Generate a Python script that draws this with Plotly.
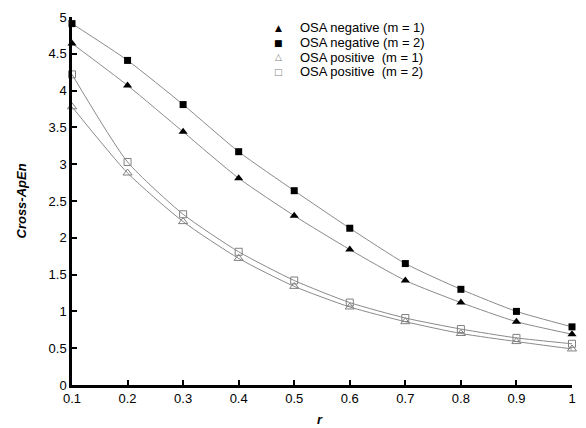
import plotly.graph_objects as go

r = [0.1, 0.2, 0.3, 0.4, 0.5, 0.6, 0.7, 0.8, 0.9, 1.0]
neg_m1 = [4.64, 4.07, 3.44, 2.81, 2.30, 1.84, 1.42, 1.12, 0.86, 0.69]
neg_m2 = [4.91, 4.41, 3.81, 3.17, 2.64, 2.13, 1.65, 1.30, 1.00, 0.79]
pos_m1 = [3.78, 2.88, 2.22, 1.72, 1.34, 1.06, 0.86, 0.70, 0.59, 0.49]
pos_m2 = [4.22, 3.03, 2.32, 1.81, 1.42, 1.12, 0.91, 0.76, 0.64, 0.56]
names = ["OSA negative (m = 1)", "OSA negative (m = 2)",
         "OSA positive \u00a0(m = 1)", "OSA positive \u00a0(m = 2)"]
legend_symbols = ["\u25b2", "\u25a0", "\u25b3", "\u25a1"]
x_ticks = [0.1, 0.2, 0.3, 0.4, 0.5, 0.6, 0.7, 0.8, 0.9, 1]
x_tick_text = ["0.1", "0.2", "0.3", "0.4", "0.5", "0.6", "0.7", "0.8", "0.9", "1"]
y_ticks = [0, 0.5, 1, 1.5, 2, 2.5, 3, 3.5, 4, 4.5, 5]
y_tick_text = ["0", "0.5", "1", "1.5", "2", "2.5", "3", "3.5", "4", "4.5", "5"]

series = [neg_m1, neg_m2, pos_m1, pos_m2]
colors = ["black", "black", "#808080", "#808080"]
styles = [
    dict(symbol="triangle-up", color="black", size=8, line=dict(width=0)),
    dict(symbol="square", color="black", size=7, line=dict(width=0)),
    dict(symbol="triangle-up-open", color="#808080", size=8, line=dict(width=1, color="#808080")),
    dict(symbol="square-open", color="#808080", size=7, line=dict(width=1, color="#808080")),
]

fig = go.Figure()
for vals in series:
    fig.add_trace(go.Scatter(x=r, y=vals, mode="lines", line=dict(color="#8a8a8a", width=1, shape="spline", smoothing=0.6),
                             showlegend=False, hoverinfo="skip", cliponaxis=False))
for vals, nm, st in zip(series, names, styles):
    fig.add_trace(go.Scatter(x=r, y=vals, mode="markers", name=nm, marker=st, cliponaxis=False, showlegend=False))

font = dict(family="Liberation Sans, Arial, sans-serif", size=13, color="black")

annotations = [
    dict(text="<b><i>Cross-ApEn</i></b>", xref="paper", yref="paper", x=-0.103, y=0.5,
         textangle=-90, showarrow=False, font=font, xanchor="center", yanchor="middle"),
    dict(text="<b><i>r</i></b>", xref="paper", yref="paper", x=0.496, y=-0.093,
         showarrow=False, font=font, xanchor="center", yanchor="middle"),
]
legend_y = [0.9707, 0.9307, 0.8907, 0.8507]
for sym, nm, col, ly in zip(legend_symbols, names, colors, legend_y):
    annotations.append(dict(text=sym, xref="paper", yref="paper", x=0.413, y=ly, showarrow=False,
                            xanchor="center", yanchor="middle",
                            font=dict(family="DejaVu Sans", size=9, color=col)))
    annotations.append(dict(text=nm, xref="paper", yref="paper", x=0.452, y=ly, showarrow=False,
                            xanchor="left", yanchor="middle", font=font))

fig.update_layout(
    width=586, height=428,
    margin=dict(l=72, r=10, t=10, b=43),
    paper_bgcolor="white", plot_bgcolor="white",
    font=font,
    showlegend=False,
    xaxis=dict(range=[0.1, 1], tickvals=x_ticks, ticktext=x_tick_text, showgrid=False, zeroline=False,
               showline=True, linecolor="black", linewidth=2.5, ticks="inside", ticklen=5, tickwidth=2,
               tickcolor="black", tickfont=font),
    yaxis=dict(range=[0, 5], tickvals=y_ticks, ticktext=y_tick_text, showgrid=False, zeroline=False,
               showline=True, linecolor="black", linewidth=2.5, ticks="inside", ticklen=5, tickwidth=2,
               tickcolor="black", tickfont=font),
    annotations=annotations,
)
fig.write_html("out.html", config={"displayModeBar": False},
               post_script="document.body.style.margin='0px';")
